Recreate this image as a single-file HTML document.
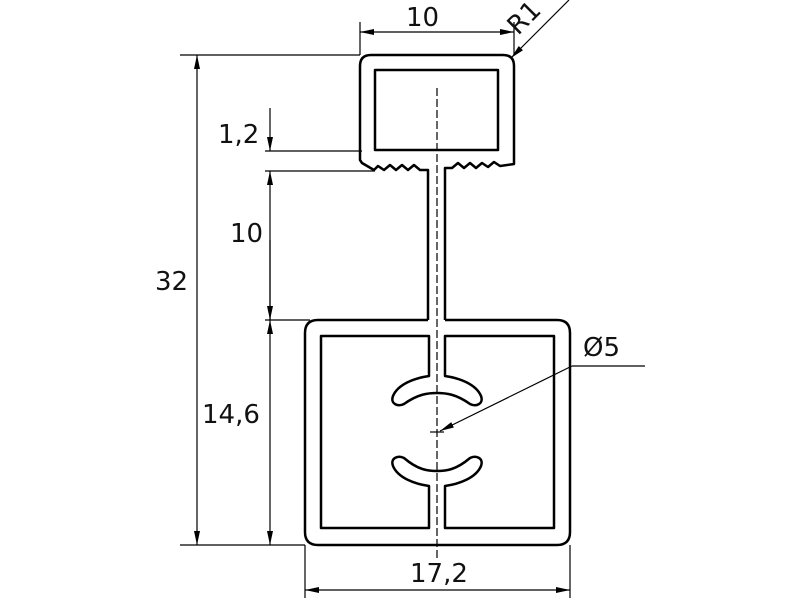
<!DOCTYPE html>
<html><head><style>
html,body{margin:0;padding:0;background:#fff;}
svg{display:block;}
text{font-family:"DejaVu Sans","Liberation Sans",sans-serif;font-size:26px;fill:#111;}
</style></head><body>
<svg width="800" height="600" viewBox="0 0 800 600" xmlns="http://www.w3.org/2000/svg">
<defs>
<marker id="a" viewBox="0 0 14 6" refX="14" refY="3" markerWidth="14" markerHeight="6" orient="auto" markerUnits="userSpaceOnUse">
<path d="M0,0 L14,3 L0,6 z" fill="#000"/></marker>
</defs>
<g fill="none" stroke="#000" stroke-width="1.2">
<line x1="180" y1="55" x2="360" y2="55"/>
<line x1="180" y1="545" x2="305" y2="545"/>
<line x1="197" y1="300" x2="197" y2="55" marker-end="url(#a)"/>
<line x1="197" y1="300" x2="197" y2="545" marker-end="url(#a)"/>
<line x1="265" y1="151" x2="362" y2="151"/>
<line x1="265" y1="171" x2="375" y2="171"/>
<line x1="270" y1="108" x2="270" y2="151" marker-end="url(#a)"/>
<line x1="270" y1="320" x2="270" y2="171" marker-end="url(#a)"/>
<line x1="270" y1="240" x2="270" y2="320" marker-end="url(#a)"/>
<line x1="265" y1="320" x2="310" y2="320"/>
<line x1="270" y1="430" x2="270" y2="320" marker-end="url(#a)"/>
<line x1="270" y1="430" x2="270" y2="545" marker-end="url(#a)"/>
<line x1="360" y1="22" x2="360" y2="55"/>
<line x1="514" y1="22" x2="514" y2="55"/>
<line x1="437" y1="32" x2="360" y2="32" marker-end="url(#a)"/>
<line x1="437" y1="32" x2="514" y2="32" marker-end="url(#a)"/>
<line x1="569" y1="0" x2="511" y2="58" marker-end="url(#a)"/>
<line x1="305" y1="545" x2="305" y2="598"/>
<line x1="570" y1="545" x2="570" y2="598"/>
<line x1="437" y1="590" x2="305" y2="590" marker-end="url(#a)"/>
<line x1="437" y1="590" x2="570" y2="590" marker-end="url(#a)"/>
<line x1="645" y1="366" x2="572" y2="366"/>
<line x1="572" y1="366" x2="440" y2="431" marker-end="url(#a)"/>
<line x1="430" y1="432" x2="444" y2="432"/>
<line x1="437" y1="88" x2="437" y2="560" stroke-dasharray="8,3"/>
</g>
<g fill="none" stroke="#000" stroke-width="2.5" stroke-linejoin="round">
<path d="M428,320 L428,170 L420,170 L414,165 L408,170 L402,165 L396,170 L390,165 L384,170 L378,166 L374,170 L362,163 L360,160 L360,66 Q360,55 371,55 L503,55 Q514,55 514,66 L514,164 L500,166 L494,162 L488,167 L482,163 L476,168 L470,163 L464,168 L458,163 L452,168 L445,168 L445,320"/>
<rect x="375" y="70" width="123" height="80"/>
<path d="M428,320 L318,320 Q305,320 305,333 L305,532 Q305,545 318,545 L557,545 Q570,545 570,532 L570,333 Q570,320 557,320 L445,320"/>
<path d="M429,336 L321,336 L321,528 L429,528 L429,486 C415,484 398,478 393,466 C390,458 398,455 404,458 C418,470 428,471 437,471 C446,471 456,470 470,458 C476,455 484,458 481,466 C476,478 459,484 445,486 L445,528 L554,528 L554,336 L445,336 L445,376 C459,378 476,384 481,396 C484,404 476,407 470,404 C456,394 446,393 437,393 C428,393 418,394 404,404 C398,407 390,404 393,396 C398,384 415,378 429,376 Z"/>
</g>
<text x="406" y="26">10</text>
<text x="0" y="0" transform="translate(518,36) rotate(-45)">R1</text>
<text x="218" y="143">1,2</text>
<text x="230" y="242">10</text>
<text x="155" y="290">32</text>
<text x="202" y="423">14,6</text>
<text x="410" y="582">17,2</text>
<text x="583" y="356">Ø5</text>
</svg>
</body></html>
